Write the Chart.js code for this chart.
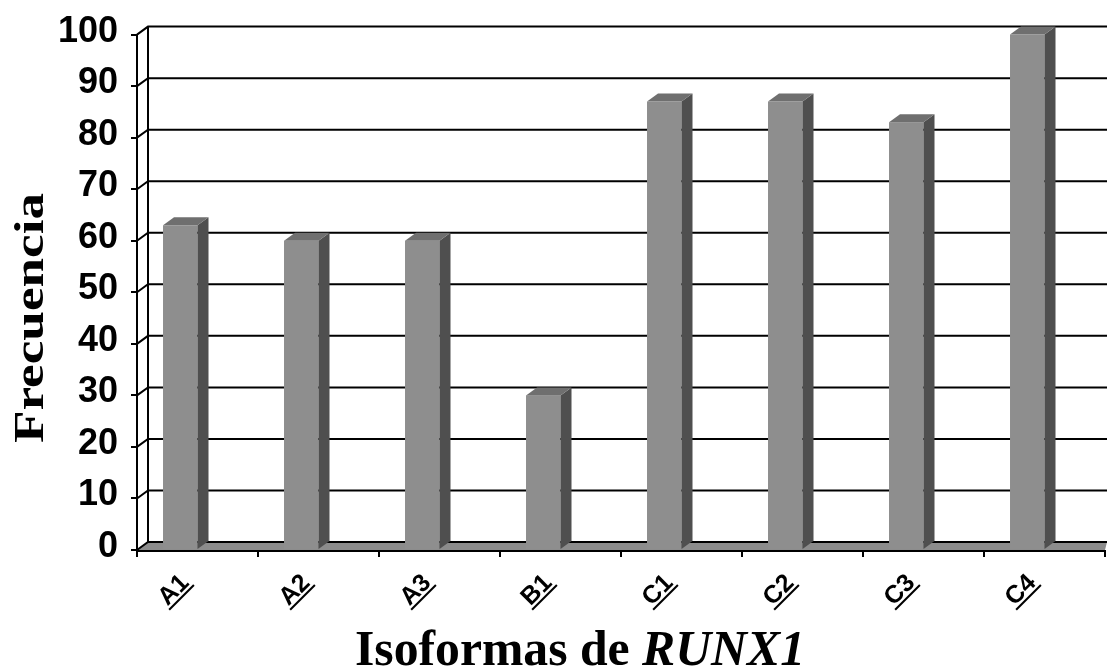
<!DOCTYPE html>
<html><head><meta charset="utf-8">
<script src="https://cdn.jsdelivr.net/npm/chart.js@4.4.1/dist/chart.umd.min.js"></script>
<style>html,body{margin:0;padding:0;background:#fff;}#wrap{width:1107px;height:672px;position:relative;}</style>
</head><body><div id="wrap"><canvas id="c" width="1107" height="672"></canvas></div>
<script>
const categories = ['A1','A2','A3','B1','C1','C2','C3','C4'];
const frecuencia = [63, 60, 60, 30, 87, 87, 83, 100];
const yTickValues = [0,10,20,30,40,50,60,70,80,90,100];
const yTitle = 'Frecuencia';
const xTitlePlain = 'Isoformas de ';
const xTitleItalic = 'RUNX1';

const DX = 11, DY = -8;
const FRONT = '#8e8e8e', TOP = '#6f6f6f', SIDE = '#4f4f4f', FLOOR = '#8c8c8c';

const bars3d = {
  id: 'bars3d',
  afterDatasetsDraw(chart) {
    const {ctx, chartArea: a, scales: {x, y}} = chart;
    const W = chart.width;
    ctx.save();
    // floor
    ctx.fillStyle = FLOOR;
    ctx.beginPath();
    ctx.moveTo(a.left, a.bottom);
    ctx.lineTo(a.left + DX, a.bottom + DY);
    ctx.lineTo(W, a.bottom + DY);
    ctx.lineTo(a.right, a.bottom);
    ctx.closePath();
    ctx.fill();
    // gridlines on side and back wall
    ctx.strokeStyle = '#000';
    ctx.lineWidth = 2;
    yTickValues.forEach(v => {
      const py = y.getPixelForValue(v);
      ctx.beginPath();
      ctx.moveTo(a.left, py);
      ctx.lineTo(a.left + DX, py + DY);
      ctx.lineTo(W, py + DY);
      ctx.stroke();
    });
    // back wall left edge
    ctx.beginPath();
    ctx.moveTo(a.left + DX, y.getPixelForValue(yTickValues[yTickValues.length - 1]) + DY);
    ctx.lineTo(a.left + DX, a.bottom + DY);
    ctx.stroke();
    // bars
    const meta = chart.getDatasetMeta(0);
    meta.data.forEach(el => {
      const R = el.x, L = el.x - el.width, T = el.y, B = el.base;
      ctx.fillStyle = FRONT;
      ctx.fillRect(L, T, R - L, B - T);
      ctx.fillStyle = SIDE;
      ctx.beginPath();
      ctx.moveTo(R, T); ctx.lineTo(R + DX, T + DY); ctx.lineTo(R + DX, B + DY); ctx.lineTo(R, B);
      ctx.closePath(); ctx.fill();
      ctx.fillStyle = TOP;
      ctx.beginPath();
      ctx.moveTo(L, T); ctx.lineTo(L + DX, T + DY); ctx.lineTo(R + DX, T + DY); ctx.lineTo(R, T);
      ctx.closePath(); ctx.fill();
    });
    // front axis line
    ctx.strokeStyle = '#000';
    ctx.lineWidth = 2;
    ctx.beginPath();
    ctx.moveTo(a.left - 1, a.bottom + 1);
    ctx.lineTo(a.right, a.bottom + 1);
    ctx.stroke();
    ctx.restore();
  },
  afterDraw(chart) {
    const {ctx, chartArea: a, scales: {x}} = chart;
    ctx.save();
    // category labels, rotated 45 deg and underlined
    ctx.fillStyle = '#000';
    ctx.strokeStyle = '#000';
    ctx.font = 'bold 25px "Liberation Sans", Arial, sans-serif';
    categories.forEach((lab, i) => {
      const cx = x.getPixelForValue(i);
      ctx.save();
      ctx.translate(cx - 7.5, a.bottom + 34);
      ctx.rotate(-Math.PI / 4);
      ctx.textAlign = 'right';
      ctx.textBaseline = 'alphabetic';
      ctx.fillText(lab, 0, 0);
      const w = ctx.measureText(lab).width;
      ctx.lineWidth = 2;
      ctx.beginPath();
      ctx.moveTo(-w - 1, 3.5);
      ctx.lineTo(2, 3.5);
      ctx.stroke();
      ctx.restore();
    });
    // y title
    ctx.save();
    ctx.font = 'bold 42px "Liberation Serif", "Times New Roman", serif';
    const tw = ctx.measureText(yTitle).width;
    ctx.translate(43, 318);
    ctx.rotate(-Math.PI / 2);
    ctx.scale(250 / tw, 1);
    ctx.textAlign = 'center';
    ctx.textBaseline = 'alphabetic';
    ctx.fillText(yTitle, 0, 0);
    ctx.restore();
    // x title
    ctx.save();
    const f1 = 'bold 50px "Liberation Serif", "Times New Roman", serif';
    const f2 = 'italic bold 50px "Liberation Serif", "Times New Roman", serif';
    ctx.font = f1; const w1 = ctx.measureText(xTitlePlain).width;
    ctx.font = f2; const w2 = ctx.measureText(xTitleItalic).width;
    const sx = 450 / (w1 + w2);
    ctx.translate(580, 665);
    ctx.scale(sx, 1);
    ctx.textAlign = 'left';
    ctx.textBaseline = 'alphabetic';
    const x0 = -(w1 + w2) / 2;
    ctx.font = f1; ctx.fillText(xTitlePlain, x0, 0);
    ctx.font = f2; ctx.fillText(xTitleItalic, x0 + w1, 0);
    ctx.restore();
    ctx.restore();
  }
};

new Chart(document.getElementById('c'), {
  type: 'bar',
  data: {
    labels: categories,
    datasets: [{
      data: frecuencia,
      backgroundColor: 'rgba(0,0,0,0)',
      borderWidth: 0,
      categoryPercentage: 1,
      barPercentage: 0.285
    }]
  },
  options: {
    responsive: false,
    animation: false,
    devicePixelRatio: 1,
    layout: {padding: {top: 30, right: 2, left: 0, bottom: 0}},
    plugins: {legend: {display: false}, tooltip: {enabled: false}},
    scales: {
      x: {
        type: 'category',
        offset: true,
        grid: {display: true, offset: true, drawOnChartArea: false, drawTicks: true, tickLength: 7, color: '#000', lineWidth: 2},
        border: {display: false},
        ticks: {display: false},
        afterFit(s) { s.height = 122; }
      },
      y: {
        min: 0, max: 100,
        afterBuildTicks(s) { s.ticks = yTickValues.map(v => ({value: v})); },
        grid: {display: true, drawOnChartArea: false, drawTicks: true, tickLength: 6, color: '#000', lineWidth: 2},
        border: {display: true, color: '#000', width: 2},
        ticks: {
          color: '#000',
          padding: 13,
          labelOffset: -3,
          font: {family: '"Liberation Sans", Arial, sans-serif', size: 36, weight: 'bold'}
        },
        afterFit(s) { s.width = 137; }
      }
    }
  },
  plugins: [bars3d]
});
</script>
</body></html>
